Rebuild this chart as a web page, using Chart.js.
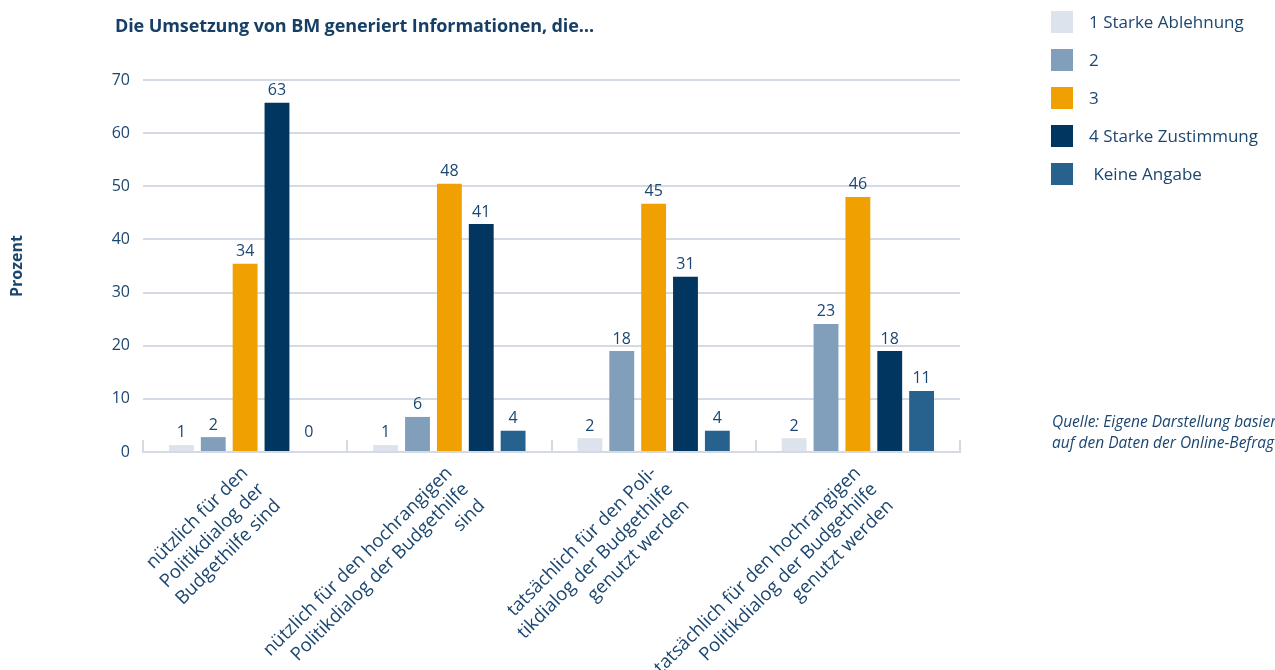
<!DOCTYPE html>
<html lang="de">
<head>
<meta charset="utf-8">
<script src="https://cdn.jsdelivr.net/npm/chart.js@4.4.1/dist/chart.umd.min.js"></script>
<style>
    html, body { margin: 0; padding: 0; background: #fff; overflow: hidden; }
    .wrap { position: relative; width: 1275px; height: 670px; overflow: hidden; font-family: "Open Sans", sans-serif; color: #1b4670; }
    canvas { position: absolute; left: 0; top: 0; }
    .title { position: absolute; left: 115px; top: 13px; font-size: 18px; font-weight: 700; color: #173f66; white-space: nowrap; letter-spacing: -0.1px; }
    .legend { position: absolute; left: 1051px; top: 11px; }
    .legend__item { height: 38px; display: flex; align-items: flex-start; font-size: 17px; white-space: pre; }
    .legend__box { width: 22px; height: 22px; margin-right: 16px; flex: none; }
    .legend__item span { line-height: 22px; }
    .source { position: absolute; left: 1052px; top: 411px; font-size: 15.5px; font-style: italic; line-height: 21px; white-space: nowrap; }
</style>
</head>
<body>
<div class="wrap">
    <canvas id="chart" width="1275" height="670"></canvas>
    <div class="title">Die Umsetzung von BM generiert Informationen, die…</div>
    <div class="legend" id="legend"></div>
    <div class="source">Quelle: Eigene Darstellung basierend<br>auf den Daten der Online-Befragung</div>
</div>
<script>
// --- Data ---
const categories = [
    ['nützlich für den', 'Politikdialog der', 'Budgethilfe sind'],
    ['nützlich für den hochrangigen', 'Politikdialog der Budgethilfe', 'sind'],
    ['tatsächlich für den Poli-', 'tikdialog der Budgethilfe', 'genutzt werden'],
    ['tatsächlich für den hochrangigen', 'Politikdialog der Budgethilfe', 'genutzt werden']
];

const seriesNames = ['1 Starke Ablehnung', '2', '3', '4 Starke Zustimmung', ' Keine Angabe'];
const seriesColors = ['#dde3ec', '#819fba', '#f0a000', '#003660', '#26628d'];

// bar heights as drawn
const ablehnung = [1.3, 1.3, 2.6, 2.6];
const stufe2 = [2.8, 6.6, 19.0, 24.1];
const stufe3 = [35.4, 50.5, 46.7, 48.0];
const zustimmung = [65.7, 42.9, 33.0, 19.0];
const keineAngabe = [0, 4.0, 4.0, 11.5];

// printed value labels
const ablehnungLabels = [1, 1, 2, 2];
const stufe2Labels = [2, 6, 18, 23];
const stufe3Labels = [34, 48, 45, 46];
const zustimmungLabels = [63, 41, 31, 18];
const keineAngabeLabels = [0, 4, 4, 11];

const yTicks = [0, 10, 20, 30, 40, 50, 60, 70];

const textColor = '#1b4670';
const gridColor = '#d3dae4';

const seriesValues = [ablehnung, stufe2, stufe3, zustimmung, keineAngabe];
const seriesLabels = [ablehnungLabels, stufe2Labels, stufe3Labels, zustimmungLabels, keineAngabeLabels];

// --- HTML legend ---
const legendEl = document.getElementById('legend');
seriesNames.forEach((name, i) => {
    const item = document.createElement('div');
    item.className = 'legend__item';
    item.innerHTML = '<div class="legend__box" style="background:' + seriesColors[i] + '"></div><span>' + name + '</span>';
    legendEl.appendChild(item);
});

// value labels above bars
const valueLabels = {
    id: 'valueLabels',
    afterDatasetsDraw(chart) {
        const ctx = chart.ctx;
        ctx.save();
        ctx.font = '16px "Open Sans"';
        ctx.fillStyle = textColor;
        ctx.textAlign = 'center';
        ctx.textBaseline = 'bottom';
        chart.data.datasets.forEach((ds, di) => {
            chart.getDatasetMeta(di).data.forEach((bar, i) => {
                const y = Math.min(bar.y, chart.scales.y.getPixelForValue(1.5));
                ctx.fillText(String(seriesLabels[di][i]), bar.x, y - 4);
            });
        });
        ctx.restore();
    }
};

// small separators between groups
const groupTicks = {
    id: 'groupTicks',
    afterDraw(chart) {
        const x = chart.scales.x;
        const y0 = chart.scales.y.getPixelForValue(0);
        const ctx = chart.ctx;
        ctx.save();
        ctx.strokeStyle = gridColor;
        ctx.lineWidth = 2;
        for (let i = 0; i <= categories.length; i++) {
            const px = Math.round(x.getPixelForValue(i - 0.5));
            ctx.beginPath();
            ctx.moveTo(px, y0);
            ctx.lineTo(px, y0 - 12);
            ctx.stroke();
        }
        ctx.restore();
    }
};

new Chart(document.getElementById('chart'), {
    type: 'bar',
    data: {
        labels: categories,
        datasets: seriesNames.map((name, i) => ({
            label: name,
            data: seriesValues[i],
            backgroundColor: seriesColors[i],
            borderWidth: 0,
            categoryPercentage: 0.78,
            barPercentage: 0.78
        }))
    },
    options: {
        responsive: false,
        animation: false,
        layout: { padding: { top: 80, right: 315, left: 0, bottom: 0 } },
        plugins: {
            legend: { display: false },
            tooltip: { enabled: false }
        },
        scales: {
            x: {
                offset: true,
                grid: { display: false },
                border: { display: true, color: gridColor, width: 2 },
                ticks: {
                    color: textColor,
                    font: { family: 'Open Sans', size: 18.5, lineHeight: 1.25 },
                    minRotation: 45,
                    maxRotation: 45,
                    padding: 2,
                    autoSkip: false
                },
                afterFit(scale) { scale.height = 218; }
            },
            y: {
                min: 0,
                max: 70,
                afterBuildTicks(scale) { scale.ticks = yTicks.map(v => ({ value: v })); },
                grid: { color: gridColor, lineWidth: 2, drawTicks: false },
                border: { display: false },
                ticks: {
                    color: textColor,
                    font: { family: 'Open Sans', size: 16 },
                    padding: 13
                },
                title: {
                    display: true,
                    text: 'Prozent',
                    color: textColor,
                    font: { family: 'Open Sans', size: 16, weight: 'bold' },
                    padding: { top: 8, bottom: 0 }
                },
                afterFit(scale) { scale.width = 143; }
            }
        }
    },
    plugins: [valueLabels, groupTicks]
});
</script>
</body>
</html>
